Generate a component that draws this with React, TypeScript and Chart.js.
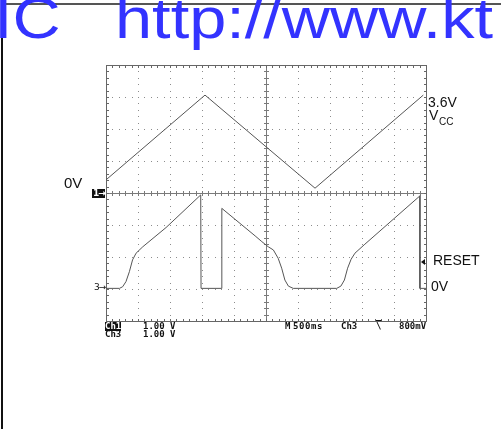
import React, { useEffect, useRef } from "react";
import { Chart, registerables } from "chart.js";

Chart.register(...registerables);

// Time axis: 500 ms per division, 10 divisions
const timeMinMs = 0;
const timeMaxMs = 5000;
const timeMajorMs = 500;
const timeMinorMs = 100;
// Vertical axis in screen divisions (8 divisions, 1 V/div)
const levelMinDiv = 0;
const levelMaxDiv = 8;
const levelMinorDiv = 0.2;

// Channel 1: triangle ramp (screen divisions)
const ch1TimeMs = [0, 1547, 3266, 4958];
const ch1LevelDiv = [4.41, 7.06, 4.15, 7.06];

// Channel 3: RESET output (screen divisions)
const ch3TimeMs = [
  0, 210, 260, 312, 365, 415, 470, 575, 938, 1480, 1485, 1810, 1810, 2330,
  2435, 2535, 2615, 2690, 2745, 2795, 2850, 2925, 3605, 3670, 3725, 3775,
  3830, 3890, 4045, 4905, 4905, 5000,
];
const ch3LevelDiv = [
  1.02, 1.02, 1.07, 1.23, 1.54, 1.91, 2.12, 2.32, 2.92, 3.94, 1.02, 1.02, 3.52,
  2.66, 2.48, 2.32, 2.22, 1.96, 1.65, 1.28, 1.09, 1.02, 1.02, 1.09, 1.28, 1.65,
  1.93, 2.12, 2.4, 3.91, 1.02, 1.02,
];

const scopeGrid = {
  id: "scopeGrid",
  beforeDatasetsDraw(chart: any) {
    const { ctx, chartArea: a, scales } = chart;
    const xs = scales.x;
    const ys = scales.y;
    const X = (v: number) => Math.round(xs.getPixelForValue(v));
    const Y = (v: number) => Math.round(ys.getPixelForValue(v));
    ctx.save();
    // dotted graticule
    ctx.fillStyle = "#8c8c8c";
    const nX = Math.round((timeMaxMs - timeMinMs) / timeMajorMs);
    const nY = levelMaxDiv - levelMinDiv;
    for (let i = 1; i < nX; i++) {
      if (i === nX / 2) continue;
      const px = X(timeMinMs + i * timeMajorMs);
      for (let v = levelMinDiv; v <= levelMaxDiv + 1e-6; v += levelMinorDiv) {
        ctx.fillRect(px, Y(v), 1, 1);
      }
    }
    for (let j = 1; j < nY; j++) {
      if (j === nY / 2) continue;
      const py = Y(levelMinDiv + j);
      for (let t = timeMinMs; t <= timeMaxMs + 1e-6; t += timeMinorMs) {
        ctx.fillRect(X(t), py, 1, 1);
      }
    }
    // center cross with ticks
    ctx.fillStyle = "#7a7a7a";
    const cx = X((timeMinMs + timeMaxMs) / 2);
    const cy = Y((levelMinDiv + levelMaxDiv) / 2);
    ctx.fillRect(cx, a.top, 1, a.bottom - a.top);
    ctx.fillRect(a.left, cy, a.right - a.left, 1);
    for (let v = levelMinDiv; v <= levelMaxDiv + 1e-6; v += levelMinorDiv) {
      ctx.fillRect(cx - 2, Y(v), 5, 1);
    }
    for (let t = timeMinMs; t <= timeMaxMs + 1e-6; t += timeMinorMs) {
      ctx.fillRect(X(t), cy - 2, 1, 5);
    }
    // border with inward ticks
    ctx.fillStyle = "#666";
    const L = Math.round(a.left), R = Math.round(a.right), T = Math.round(a.top), B = Math.round(a.bottom);
    ctx.fillRect(L, T, R - L + 1, 1);
    ctx.fillRect(L, B, R - L + 1, 1);
    ctx.fillRect(L, T, 1, B - T + 1);
    ctx.fillRect(R, T, 1, B - T + 1);
    for (let v = levelMinDiv; v <= levelMaxDiv + 1e-6; v += levelMinorDiv) {
      const py = Y(v);
      ctx.fillRect(L, py, 3, 1);
      ctx.fillRect(R - 2, py, 3, 1);
    }
    for (let t = timeMinMs; t <= timeMaxMs + 1e-6; t += timeMinorMs) {
      const px = X(t);
      ctx.fillRect(px, T, 1, 3);
      ctx.fillRect(px, B - 2, 1, 3);
    }
    ctx.restore();
  },
};

const sans = '"Liberation Sans", Arial, Helvetica, sans-serif';
const mono = '"DejaVu Sans Mono", "Liberation Mono", monospace';
const dejavu = '"DejaVu Sans", sans-serif';

function Label(props: {
  left: number;
  top: number;
  size: number;
  children: React.ReactNode;
  font?: string;
  color?: string;
  bg?: string;
  weight?: string | number;
  spacing?: number;
}) {
  return (
    <div
      style={{
        position: "absolute",
        left: props.left,
        top: props.top,
        fontSize: props.size,
        lineHeight: 1,
        fontFamily: props.font || sans,
        color: props.color || "#111",
        background: props.bg || "transparent",
        fontWeight: (props.weight as any) || "normal",
        letterSpacing: props.spacing ? props.spacing + "px" : undefined,
        whiteSpace: "pre",
      }}
    >
      {props.children}
    </div>
  );
}

const headerStyle: React.CSSProperties = {
  position: "absolute",
  top: -11,
  fontFamily: sans,
  fontSize: 58,
  lineHeight: 1,
  color: "#3333ff",
  whiteSpace: "pre",
  transform: "scaleX(1.15)",
  transformOrigin: "0 0",
};

export default function App() {
  const canvasRef = useRef<HTMLCanvasElement | null>(null);

  useEffect(() => {
    const canvas = canvasRef.current;
    if (!canvas) return;
    const chart = new Chart(canvas, {
      type: "line",
      data: {
        datasets: [
          {
            label: "Ch1",
            data: ch1TimeMs.map((t, i) => ({ x: t, y: ch1LevelDiv[i] })),
            borderColor: "#555",
            borderWidth: 1,
            pointRadius: 0,
            tension: 0,
          },
          {
            label: "Ch3",
            data: ch3TimeMs.map((t, i) => ({ x: t, y: ch3LevelDiv[i] })),
            borderColor: "#555",
            borderWidth: 1,
            pointRadius: 0,
            tension: 0,
          },
        ],
      },
      options: {
        responsive: false,
        maintainAspectRatio: false,
        animation: false,
        layout: { padding: { left: 106, top: 65, right: 75, bottom: 108 } },
        scales: {
          x: { type: "linear", min: timeMinMs, max: timeMaxMs, display: false },
          y: { type: "linear", min: levelMinDiv, max: levelMaxDiv, display: false },
        },
        plugins: { legend: { display: false }, tooltip: { enabled: false } },
      },
      plugins: [scopeGrid],
    });
    return () => chart.destroy();
  }, []);

  return (
    <div
      style={{
        position: "absolute",
        left: 0,
        top: 0,
        width: 501,
        height: 429,
        overflow: "hidden",
        background: "#fff",
      }}
    >
      <canvas ref={canvasRef} width={501} height={429} style={{ position: "absolute", left: 0, top: 0 }} />
      {/* frame lines */}
      <div style={{ position: "absolute", left: 1, top: 3, width: 500, height: 2, background: "#555" }} />
      <div style={{ position: "absolute", left: 1, top: 4, width: 2, height: 425, background: "#111" }} />
      {/* header watermark text */}
      <div style={{ ...headerStyle, left: -6 }}>IC</div>
      <div style={{ ...headerStyle, left: 115 }}>http://www.kt</div>
      {/* annotations */}
      <Label left={64} top={175} size={15}>0V</Label>
      <Label left={428} top={95} size={14}>3.6V</Label>
      <Label left={429} top={108} size={14}>V</Label>
      <Label left={439} top={117} size={10}>CC</Label>
      <Label left={433} top={253} size={14}>RESET</Label>
      <Label left={431} top={279} size={14}>0V</Label>
      <div
        style={{
          position: "absolute",
          left: 421,
          top: 259,
          width: 0,
          height: 0,
          borderTop: "3px solid transparent",
          borderBottom: "3px solid transparent",
          borderRight: "4px solid #111",
        }}
      />
      {/* channel markers */}
      <div
        style={{
          position: "absolute",
          left: 92,
          top: 189,
          width: 13,
          height: 9,
          background: "#111",
          color: "#fff",
          fontFamily: dejavu,
          fontWeight: "bold",
          fontSize: 9,
          lineHeight: "9px",
          whiteSpace: "pre",
          overflow: "hidden",
          paddingLeft: 1,
          boxSizing: "border-box",
          letterSpacing: "-1px",
        }}
      >
        1→
      </div>
      <Label left={94} top={283} size={9} font={dejavu} spacing={-1}>3→</Label>
      {/* scope readouts */}
      <Label left={105} top={322} size={9} font={mono} color="#fff" bg="#111" weight="bold">Ch1</Label>
      <Label left={143} top={322} size={9} font={mono} weight="bold">1.00 V</Label>
      <Label left={105} top={330} size={9} font={mono} weight="bold">Ch3</Label>
      <Label left={143} top={330} size={9} font={mono} weight="bold">1.00 V</Label>
      <Label left={285} top={322} size={9} font={mono} weight="bold">M</Label>
      <Label left={293} top={322} size={9} font={mono} weight="bold" spacing={0.6}>500ms</Label>
      <Label left={341} top={322} size={9} font={mono} weight="bold">Ch3</Label>
      <div style={{ position: "absolute", left: 376, top: 322, fontFamily: mono, fontSize: 9, lineHeight: 1, fontWeight: "bold", textDecoration: "overline", color: "#111" }}>\</div>
      <Label left={399} top={322} size={9} font={mono} weight="bold">800mV</Label>
    </div>
  );
}
